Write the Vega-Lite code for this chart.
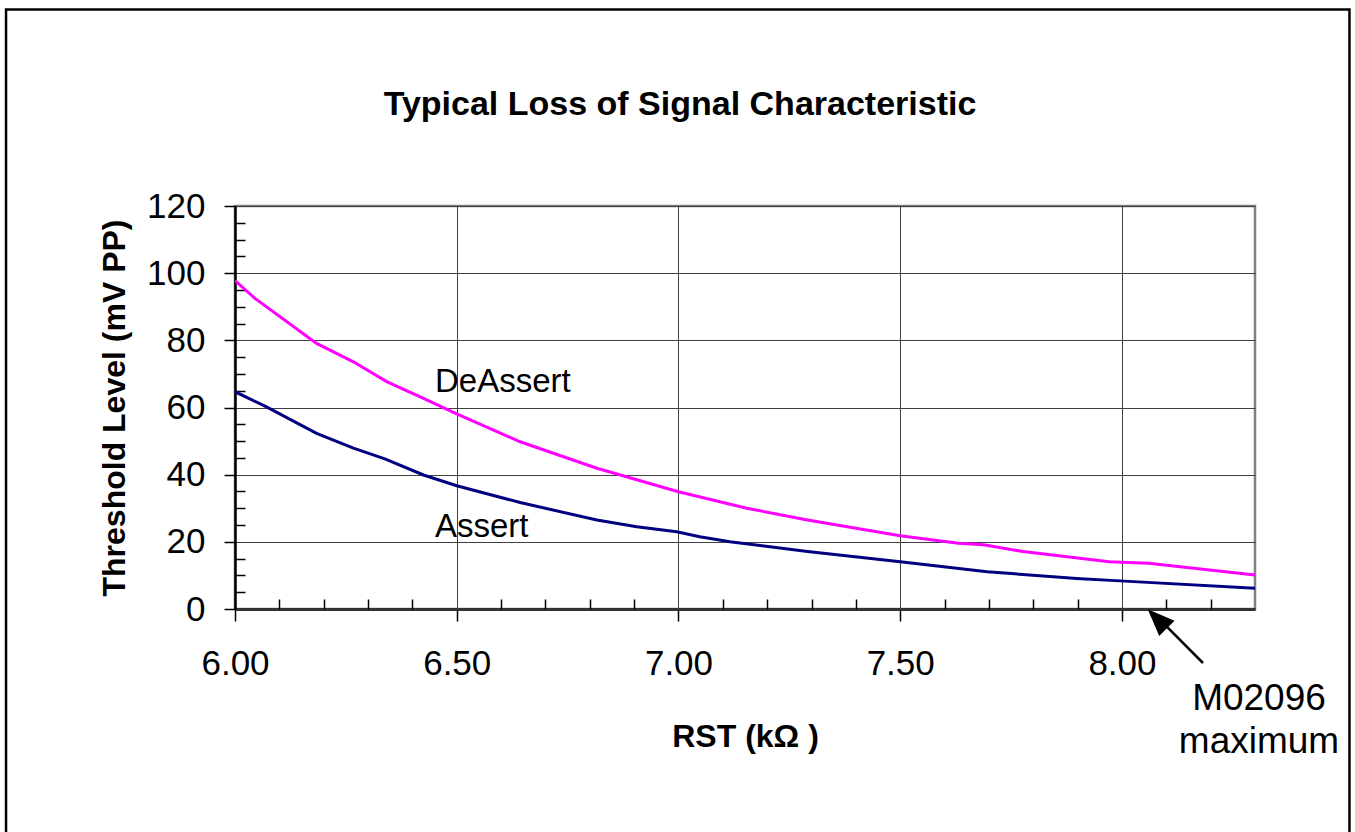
{
  "$schema": "https://vega.github.io/schema/vega-lite/v6.json",
  "width": 1020,
  "height": 403,
  "autosize": "none",
  "padding": {"left": 235, "top": 206, "right": 100, "bottom": 223},
  "background": "white",
  "title": {
    "text": "Typical Loss of Signal Characteristic",
    "font": "Liberation Sans",
    "fontSize": 34,
    "fontWeight": "bold",
    "color": "#000000",
    "anchor": "middle",
    "baseline": "alphabetic",
    "dx": -65,
    "offset": -141
  },
  "config": {
    "view": {"stroke": "#808080", "strokeWidth": 2.5},
    "font": "Liberation Sans"
  },
  "datasets": {
    "curves": [
      {"r": 6.000, "v": 97.8, "s": "DeAssert"},
      {"r": 6.045, "v": 92.5, "s": "DeAssert"},
      {"r": 6.184, "v": 79.1, "s": "DeAssert"},
      {"r": 6.267, "v": 73.6, "s": "DeAssert"},
      {"r": 6.342, "v": 67.7, "s": "DeAssert"},
      {"r": 6.425, "v": 62.7, "s": "DeAssert"},
      {"r": 6.500, "v": 58.1, "s": "DeAssert"},
      {"r": 6.643, "v": 49.8, "s": "DeAssert"},
      {"r": 6.816, "v": 41.9, "s": "DeAssert"},
      {"r": 7.000, "v": 34.9, "s": "DeAssert"},
      {"r": 7.154, "v": 30.0, "s": "DeAssert"},
      {"r": 7.291, "v": 26.5, "s": "DeAssert"},
      {"r": 7.500, "v": 21.8, "s": "DeAssert"},
      {"r": 7.631, "v": 19.6, "s": "DeAssert"},
      {"r": 7.688, "v": 19.1, "s": "DeAssert"},
      {"r": 7.777, "v": 17.1, "s": "DeAssert"},
      {"r": 7.971, "v": 14.1, "s": "DeAssert"},
      {"r": 8.060, "v": 13.6, "s": "DeAssert"},
      {"r": 8.300, "v": 10.1, "s": "DeAssert"},
      {"r": 6.000, "v": 64.7, "s": "Assert"},
      {"r": 6.071, "v": 60.2, "s": "Assert"},
      {"r": 6.184, "v": 52.3, "s": "Assert"},
      {"r": 6.267, "v": 47.9, "s": "Assert"},
      {"r": 6.338, "v": 44.7, "s": "Assert"},
      {"r": 6.425, "v": 39.9, "s": "Assert"},
      {"r": 6.500, "v": 36.7, "s": "Assert"},
      {"r": 6.643, "v": 31.7, "s": "Assert"},
      {"r": 6.816, "v": 26.5, "s": "Assert"},
      {"r": 6.906, "v": 24.5, "s": "Assert"},
      {"r": 6.996, "v": 23.0, "s": "Assert"},
      {"r": 7.048, "v": 21.5, "s": "Assert"},
      {"r": 7.116, "v": 20.0, "s": "Assert"},
      {"r": 7.291, "v": 17.1, "s": "Assert"},
      {"r": 7.500, "v": 14.1, "s": "Assert"},
      {"r": 7.696, "v": 11.1, "s": "Assert"},
      {"r": 7.898, "v": 9.1, "s": "Assert"},
      {"r": 8.006, "v": 8.3, "s": "Assert"},
      {"r": 8.300, "v": 6.2, "s": "Assert"}
    ],
    "labels": [
      {"r": 6.451, "v": 64.6, "t": "DeAssert"},
      {"r": 6.451, "v": 21.4, "t": "Assert"}
    ],
    "notes": [
      {"r": 8.309, "v": -30.1, "t": "M02096"},
      {"r": 8.309, "v": -42.9, "t": "maximum"}
    ],
    "arrow": [
      {"r": 8.1827, "v": -16.08, "r2": 8.0865, "v2": -3.28}
    ],
    "head": [
      {"r": 8.0797, "v": -2.92}
    ],
    "frame": [
      {"r": 5.4837, "v": 178.5, "r2": 8.513, "v2": -68.8}
    ]
  },
  "resolve": {"axis": {"x": "independent", "y": "independent"}},
  "layer": [
    {
      "data": {"name": "frame"},
      "mark": {"type": "rect", "clip": false, "fill": "white", "fillOpacity": 0, "stroke": "#000000", "strokeWidth": 2.5},
      "encoding": {
        "x": {"field": "r", "type": "quantitative", "axis": null, "scale": {"domain": [6, 8.3], "nice": false, "zero": false}},
        "x2": {"field": "r2"},
        "y": {"field": "v", "type": "quantitative", "axis": null, "scale": {"domain": [0, 120], "nice": false, "zero": false}},
        "y2": {"field": "v2"}
      }
    },
    {
      "data": {"name": "curves"},
      "mark": {"type": "line", "strokeWidth": 3, "clip": true},
      "encoding": {
        "x": {
          "field": "r", "type": "quantitative",
          "axis": {
            "orient": "bottom",
            "values": [6, 6.5, 7, 7.5, 8],
            "format": ".2f",
            "title": "RST (kΩ )",
            "grid": true, "gridColor": "#404040", "gridWidth": 1,
            "tickSize": 12, "tickColor": "#000000", "tickWidth": 1.5,
            "domainColor": "#333333", "domainWidth": 3,
            "labelFont": "Liberation Sans", "labelFontSize": 35, "labelColor": "#000000", "labelPadding": 25, "labelFlush": false,
            "titleFont": "Liberation Sans", "titleFontSize": 32, "titleFontWeight": "bold", "titleColor": "#000000", "titlePadding": 40
          }
        },
        "y": {
          "field": "v", "type": "quantitative",
          "axis": {
            "orient": "left",
            "values": [0, 20, 40, 60, 80, 100, 120],
            "title": "Threshold Level (mV PP)",
            "grid": true, "gridColor": "#404040", "gridWidth": 1,
            "tickSize": 11, "tickColor": "#000000", "tickWidth": 1.5,
            "domainColor": "#000000", "domainWidth": 2.5,
            "labelFont": "Liberation Sans", "labelFontSize": 35, "labelColor": "#000000", "labelPadding": 19, "labelFlush": false,
            "titleFont": "Liberation Sans", "titleFontSize": 32, "titleFontWeight": "bold", "titleColor": "#000000", "titlePadding": 15
          }
        },
        "color": {"field": "s", "type": "nominal", "scale": {"domain": ["DeAssert", "Assert"], "range": ["#FF00FF", "#000080"]}, "legend": null}
      }
    },
    {
      "data": {"name": "labels"},
      "mark": {"type": "text", "align": "left", "baseline": "alphabetic", "font": "Liberation Sans", "fontSize": 33, "color": "#000000"},
      "encoding": {
        "x": {
          "field": "r", "type": "quantitative",
          "axis": {
            "orient": "bottom",
            "values": [6.1, 6.2, 6.3, 6.4, 6.6, 6.7, 6.8, 6.9, 7.1, 7.2, 7.3, 7.4, 7.6, 7.7, 7.8, 7.9, 8.1, 8.2],
            "labels": false, "domain": false, "grid": false, "title": null,
            "tickSize": -10, "tickColor": "#000000", "tickWidth": 1.5
          }
        },
        "y": {
          "field": "v", "type": "quantitative",
          "axis": {
            "orient": "left",
            "values": [5, 10, 15, 25, 30, 35, 45, 50, 55, 65, 70, 75, 85, 90, 95, 105, 110, 115],
            "labels": false, "domain": false, "grid": false, "title": null,
            "tickSize": -10, "tickColor": "#000000", "tickWidth": 1.5
          }
        },
        "text": {"field": "t"}
      }
    },
    {
      "data": {"name": "notes"},
      "mark": {"type": "text", "align": "center", "baseline": "alphabetic", "font": "Liberation Sans", "fontSize": 37, "color": "#000000", "clip": false},
      "encoding": {
        "x": {"field": "r", "type": "quantitative", "axis": null},
        "y": {"field": "v", "type": "quantitative", "axis": null},
        "text": {"field": "t"}
      }
    },
    {
      "data": {"name": "arrow"},
      "mark": {"type": "rule", "stroke": "#000000", "strokeWidth": 2.5, "clip": false},
      "encoding": {
        "x": {"field": "r", "type": "quantitative", "axis": null},
        "y": {"field": "v", "type": "quantitative", "axis": null},
        "x2": {"field": "r2"},
        "y2": {"field": "v2"}
      }
    },
    {
      "data": {"name": "head"},
      "mark": {"type": "point", "shape": "M0,-1L0.8,1L-0.8,1Z", "filled": true, "color": "#000000", "opacity": 1, "size": 729, "angle": -45, "clip": false},
      "encoding": {
        "x": {"field": "r", "type": "quantitative", "axis": null},
        "y": {"field": "v", "type": "quantitative", "axis": null}
      }
    }
  ]
}
